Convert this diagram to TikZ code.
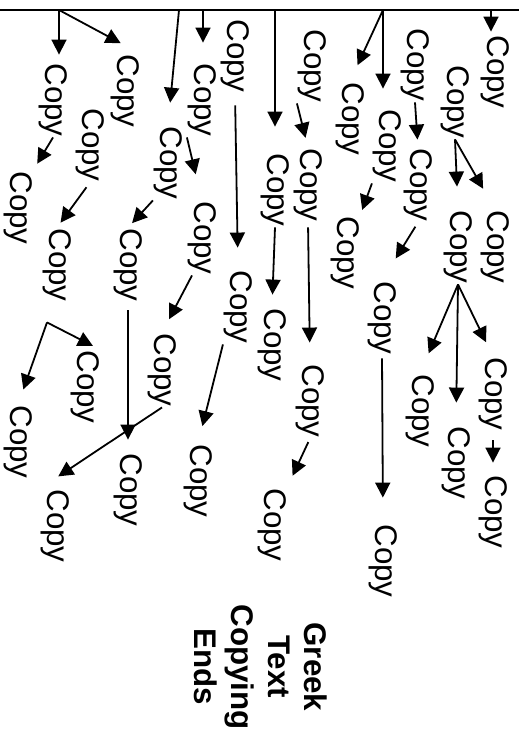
\documentclass[tikz,border=0pt]{standalone}
\usepackage{fontspec}
\setmainfont{Liberation Sans}
\usetikzlibrary{arrows.meta}

\begin{document}
\begin{tikzpicture}[x=1pt, y=-1pt, line width=1.8pt, >={Triangle[length=15pt,width=15pt]},
  copynode/.style={rotate=-90, inner sep=0pt, font=\fontsize{31.3pt}{36.7pt}\selectfont}]
  \useasboundingbox (0,0) rectangle (519,736);
  \draw[line width=1.8pt] (0,10) -- (519,10);
  \foreach \n/\x in {ta/59, te/179, tf/203, ts/275, tt/383, tv/491}
    \coordinate (\n) at (\x,10);
  \foreach \n/\x/\y in {a/53/100, b/125/91, c/18/208, d/90/145, e/168/163, f/202/100,
    g/235/56, h/57/265, i/128/265, j/202/238, k/238/307, l/162/370, m/85/387, n/18/442,
    o/128/490, q/55/526, r/198/481, s/275/190, t/350/119, u/387/146, v/495/72, w/312/66,
    x/415/65, y/455/102, z/308/185, aa/418/185, ab/458/247, ac/495/247, ad/345/253,
    ae/382/318, af/310/401, ag/272/345, ah/420/411, ai/456/463, aj/493/394, ak/493/512,
    al/272/525, am/383/561}
    \node[copynode] (\n) at (\x,\y) {Copy};
  \node[copynode, align=center, font=\fontsize{31.3pt}{36.7pt}\selectfont\bfseries] (ends) at (261,667) {Greek\\Text\\Copying\\Ends};
  \coordinate (hfork) at ([xshift=-10pt,yshift=-20pt]h.east);
  \path[->]
  (ta) edge[shorten >=8pt] (ta |- a.west)
  (ta) edge[shorten >=22pt] (b.north west)
  (te) edge[shorten >=23pt] (e.west)
  (tf) edge[shorten >=20pt] (tf |- f.west)
  (ts) edge[shorten >=26pt] (ts |- s.west)
  (tt) edge[shorten >=18pt] (t.west)
  (tt) edge[shorten >=20pt] (tt |- u.west)
  (tv) edge[shorten >=3pt] (tv |- v.west)
  (a.east) edge[shorten >=8pt] (c.north west)
  (d.east) edge[shorten <=6pt, shorten >=6pt] (h.west)
  (e.south east) edge[shorten >=6pt] (i.west)
  (f.south east) edge[shorten >=27pt] (j.west)
  ([xshift=-10pt]j.east) edge[shorten >=15pt] (l.west)
  (g.east) edge[shorten <=12pt, shorten >=22pt] (k.west)
  (hfork) edge[shorten >=16pt] (n.west)
  (hfork) edge[shorten >=8pt] (m.north west)
  (i.east) edge[shorten <=8pt, shorten >=13pt] (o.west)
  (l.east) edge[shorten >=22pt] (q.south west)
  (k.south east) edge[shorten >=18pt] (r.west)
  (w.south east) edge[shorten >=10pt] (z.west)
  (x.east) edge[shorten >=8pt] (aa.west)
  (y.east) edge[shorten >=23pt] (ab.west)
  (y.east) edge[shorten >=24pt] (ac.west)
  (u.south east) edge[shorten >=6pt] (ad.north west)
  (aa.east) edge[shorten <=5pt, shorten >=26pt] (ae.west)
  (z.east) edge[shorten <=5pt, shorten >=21pt] (af.west)
  (s.east) edge[shorten >=13pt] (ag.west)
  (ab.east) edge[shorten >=22pt] (ah.west)
  (ab.east) edge[shorten >=23pt] (ai.west)
  (ab.east) edge[shorten >=16pt] (aj.west)
  (aj.east) edge[shorten <=9pt, shorten >=12pt] (ak.west)
  (af.east) edge[shorten <=4pt, shorten >=13pt] (al.north west)
  (ae.east) edge[shorten <=3pt, shorten >=26pt] (am.west)
  ;
\end{tikzpicture}
\end{document}
